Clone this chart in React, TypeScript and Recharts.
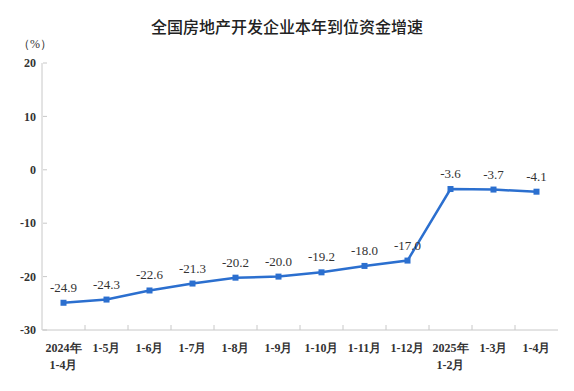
import { LineChart, Line, XAxis, YAxis, LabelList } from "recharts";

const periods = [
  "2024年\n1-4月",
  "1-5月",
  "1-6月",
  "1-7月",
  "1-8月",
  "1-9月",
  "1-10月",
  "1-11月",
  "1-12月",
  "2025年\n1-2月",
  "1-3月",
  "1-4月",
];
const growth = [-24.9, -24.3, -22.6, -21.3, -20.2, -20.0, -19.2, -18.0, -17.0, -3.6, -3.7, -4.1];
const yTicks = [-30, -20, -10, 0, 10, 20];

const data = periods.map((p, i) => ({ period: p, value: growth[i] }));

const serif = "'Liberation Serif', 'Times New Roman', serif";
const axisColor = "#c8c8c8";
const lineColor = "#2b6fcf";

const PeriodTick = (props: any) => {
  const { x, y, payload, index } = props;
  const lines = String(payload.value).split("\n");
  const half = 21.5;
  return (
    <g>
      {index < periods.length - 1 && (
        <line x1={x + half} x2={x + half} y1={y - 8} y2={y - 13} stroke={axisColor} />
      )}
      <text x={x} y={y + 14} textAnchor="middle" fontFamily={serif} fontSize={12} fontWeight="bold" fill="#333">
        {lines.map((l, i) => (
          <tspan key={i} x={x} dy={i === 0 ? 0 : 17}>
            {l}
          </tspan>
        ))}
      </text>
    </g>
  );
};

const SquareDot = (props: any) => {
  const { cx, cy } = props;
  return <rect x={cx - 3} y={cy - 3} width={6} height={6} fill={lineColor} />;
};

export default function App() {
  return (
    <div style={{ position: "relative", width: 574, height: 391, background: "#fff" }}>
      <style>{"body{margin:0}"}</style>
      <div
        style={{
          position: "absolute",
          top: 14,
          left: 0,
          width: 574,
          textAlign: "center",
          fontFamily: "'Noto Sans CJK SC', sans-serif",
          fontSize: 16,
          fontWeight: 500,
          color: "#222",
        }}
      >
        全国房地产开发企业本年到位资金增速
      </div>
      <div
        style={{
          position: "absolute",
          top: 36,
          left: 18,
          fontFamily: serif,
          fontSize: 12,
          color: "#333",
        }}
      >
        （%）
      </div>
      <LineChart width={574} height={391} data={data} margin={{ top: 63, right: 16, left: 0, bottom: 21 }}>
        <XAxis
          dataKey="period"
          scale="band"
          interval={0}
          tick={<PeriodTick />}
          tickLine={false}
          axisLine={{ stroke: axisColor }}
          height={40}
        />
        <XAxis xAxisId="top" orientation="top" dataKey="period" scale="band" tick={false} tickLine={false} axisLine={{ stroke: axisColor }} height={0} />
        <YAxis
          domain={[-30, 20]}
          ticks={yTicks}
          width={42}
          tick={{ fontFamily: serif, fontSize: 12, fontWeight: "bold", fill: "#333" }}
          tickLine={{ stroke: axisColor, transform: "translate(5,0)" }}
          tickSize={4}
          axisLine={{ stroke: axisColor }}
        />
        <YAxis yAxisId="right" orientation="right" width={0} tick={false} tickLine={false} axisLine={{ stroke: axisColor }} />
        <Line
          type="linear"
          dataKey="value"
          stroke={lineColor}
          strokeWidth={2.5}
          dot={<SquareDot />}
          activeDot={false}
          isAnimationActive={false}
        >
          <LabelList dataKey="value" position="top" offset={11} fontFamily={serif} fontSize={13} fill="#333" formatter={(v: any) => Number(v).toFixed(1)} />
        </Line>
      </LineChart>
    </div>
  );
}
